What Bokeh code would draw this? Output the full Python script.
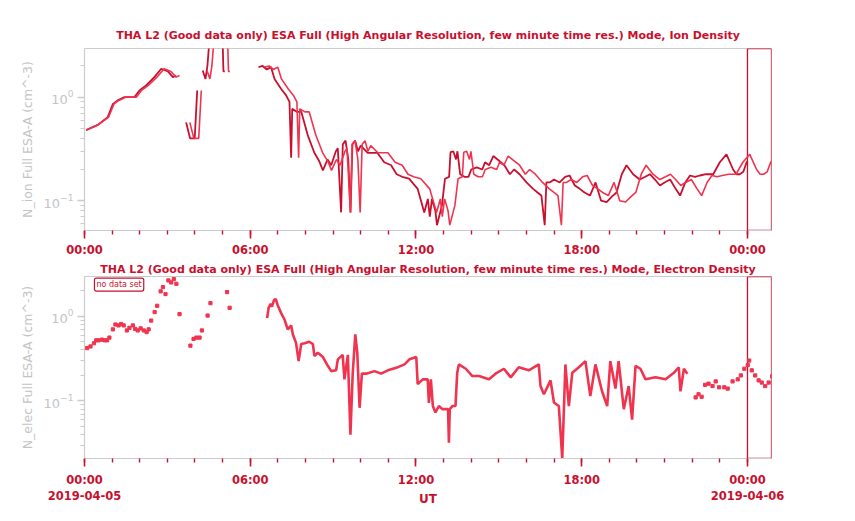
import math
from bokeh.plotting import figure
from bokeh.layouts import column
from bokeh.models import Range1d, FixedTicker, Label, LogTickFormatter, SingleIntervalTicker, LogTicker
from bokeh.embed import file_html
from bokeh.resources import INLINE

NAN = float("nan")

# ---------------- data ----------------
# time axis in hours since 2019-04-05 00:00 UT
x_end_hours = 24.87          # visible span of the primary time axis
x_end_hours_alt = 24.0       # span of the overlaid (second) time axis
highlight_start = [24.0]
highlight_end = [24.87]

tick_hours = [0, 6, 12, 18, 24]
tick_interval_hours = 6
minor_ticks_per_interval = 6
tick_labels_top = ["00:00", "06:00", "12:00", "18:00", "00:00"]
tick_labels_bottom = ["00:00\n2019-04-05", "06:00", "12:00", "18:00", "00:00\n2019-04-06"]

y_major_ticks = [0.1, 1.0]
y_minor_ticks = [0.02, 0.03, 0.04, 0.05, 0.06, 0.07, 0.08, 0.09,
                 0.2, 0.3, 0.4, 0.5, 0.6, 0.7, 0.8, 0.9, 2.0, 3.0]

ion_time = [0.06, 0.48, 0.84, 1.03, 1.20, 1.45, 1.81, 1.99, 2.23, 2.53, 2.78, 3.02, 3.20, 3.32, 3.50,
            3.68, 3.82, 3.99, 4.08, 4.18,
            4.28, 4.38, 4.45, 4.52, 5.00, 5.03, 5.08, 5.20,
            6.30, 6.45, 6.60, 6.75, 6.88, 7.12, 7.30, 7.42, 7.48, 7.52, 7.70, 7.85, 8.08, 8.32,
            8.50, 8.63, 8.80, 8.93, 9.10, 9.17, 9.29, 9.35, 9.45, 9.55, 9.63, 9.70, 9.80, 9.90,
            10.0, 10.25, 10.6, 10.85, 11.1, 11.3, 11.5, 11.75, 12.06, 12.3, 12.43, 12.50, 12.58,
            12.70, 12.76, 12.94, 13.05, 13.20, 13.25, 13.35, 13.45, 13.50, 13.6, 13.75, 13.9,
            14.0, 14.2, 14.4, 14.5, 14.65, 14.8, 15.03, 15.2, 15.4, 15.55, 15.75, 16.0, 16.24,
            16.4, 16.54, 16.66, 16.72, 16.84, 17.0, 17.2, 17.4, 17.56, 17.75, 17.93, 18.1, 18.3,
            18.5, 18.7, 18.9, 19.1, 19.26, 19.45, 19.62, 19.86, 20.1, 20.3, 20.47, 20.65, 20.83,
            21.0, 21.2, 21.4, 21.56, 21.75, 21.92, 22.1, 22.28, 22.5, 22.76, 23.0, 23.24, 23.48,
            23.6, 23.72, 23.85, 23.97, 24.0]
ion_density = [0.48, 0.54, 0.64, 0.86, 0.93, 1.0, 1.0, 1.16, 1.30, 1.56, 1.88, 1.77, 1.56, 1.62, NAN,
               0.57, 0.40, 0.40, 1.16, NAN,
               1.81, 1.5, 2.0, 3.5, 3.5, 1.77, 1.77, NAN,
               1.95, 2.0, 1.85, 1.95, 1.5, 1.2, 1.04, 0.9, 0.26, 0.77, 0.72, 0.72, 0.43, 0.29,
               0.24, 0.196, 0.25, 0.22, 0.30, 0.32, 0.077, 0.35, 0.38, 0.25, 0.077, 0.35, 0.38, 0.30,
               0.34, 0.29, 0.29, 0.235, 0.22, 0.18, 0.17, 0.163, 0.13, 0.077, 0.104, 0.07, 0.104,
               0.08, 0.058, 0.09, 0.163, 0.17, 0.294, 0.30, 0.25, 0.30, 0.18, 0.17, 0.17,
               0.20, 0.21, 0.20, 0.235, 0.22, 0.27, 0.24, 0.22, 0.18, 0.20, 0.18, 0.15, 0.13,
               0.12, 0.112, 0.058, 0.15, 0.15, 0.16, 0.15, 0.17, 0.175, 0.14, 0.13, 0.12, 0.112,
               0.15, 0.10, 0.097, 0.11, 0.12, 0.18, 0.22, 0.18, 0.16, 0.17, 0.18, 0.16, 0.14,
               0.15, 0.16, 0.13, 0.112, 0.15, 0.175, 0.17, 0.175, 0.18, 0.18, 0.235, 0.28, 0.20,
               0.18, 0.18, 0.19, 0.235, 0.24]

elec_sparse_time = [0.09, 0.21, 0.33, 0.41, 0.49, 0.61, 0.70, 0.79, 0.87, 0.99, 1.08, 1.19, 1.28, 1.37,
                    1.48, 1.57, 1.69, 1.77, 1.86, 1.96, 2.07, 2.17, 2.24, 2.33, 2.45, 2.54, 2.66, 2.74,
                    2.83, 2.93, 3.03, 3.12, 3.21, 3.32, 3.70, 3.81, 3.91, 4.02, 4.10, 4.30, 4.40, 4.98,
                    5.07,
                    21.35, 21.45, 21.56, 21.68, 21.80, 21.94, 22.05, 22.17, 22.35, 22.47, 22.64, 22.82,
                    22.93, 23.05, 23.17, 23.22, 23.31, 23.43, 23.55, 23.66, 23.78, 23.90, 24.02]
elec_sparse_density = [0.42, 0.44, 0.48, 0.52, 0.52, 0.53, 0.52, 0.52, 0.56, 0.70, 0.80, 0.78, 0.81, 0.78,
                       0.68, 0.73, 0.78, 0.71, 0.68, 0.72, 0.68, 0.65, 0.70, 0.89, 1.12, 1.33, 1.97, 2.21,
                       1.83, 2.65, 2.51, 2.75, 2.42, 1.06, 0.45, 0.54, 0.56, 0.56, 0.68, 1.02, 1.43, 1.93,
                       1.26,
                       0.11, 0.12, 0.112, 0.155, 0.16, 0.15, 0.17, 0.145, 0.145, 0.14, 0.17, 0.18,
                       0.20, 0.24, 0.265, 0.30, 0.23, 0.20, 0.175, 0.165, 0.15, 0.165, 0.195]

elec_dense_time = [6.38, 6.43, 6.50, 6.55, 6.62, 6.68, 6.75, 6.87, 6.99, 7.10, 7.22, 7.28, 7.39, 7.48,
                   7.57, 7.69, 7.85, 7.98, 8.03, 8.15, 8.33, 8.50, 8.62, 8.79, 8.85, 9.02, 9.08, 9.20,
                   9.29, 9.37, 9.46, 9.53, 9.61, 9.69, 9.84, 10.13, 10.36, 10.60, 10.89, 11.18, 11.35,
                   11.59, 11.64, 11.82, 11.99, 12.03, 12.10, 12.17, 12.26, 12.38, 12.50, 12.70, 12.73,
                   12.76, 12.85, 12.96, 13.02, 13.08, 13.32, 13.55, 13.78, 14.13, 14.36, 14.65, 14.89,
                   15.17, 15.52, 15.87, 15.93, 16.05, 16.28, 16.40, 16.57, 16.69, 16.80, 16.92, 17.04,
                   17.27, 17.50, 17.67, 17.85, 18.08, 18.26, 18.37, 18.55, 18.66, 18.84, 19.01, 19.13,
                   19.25, 19.42, 19.60, 19.95, 20.30, 20.59, 20.76, 20.82, 20.94, 21.06]
elec_dense_density = [0.95, 1.25, 1.40, 1.30, 1.55, 1.60, 1.35, 1.09, 0.91, 0.70, 0.78, 0.61, 0.485, 0.295,
                      0.47, 0.48, 0.50, 0.47, 0.34, 0.37, 0.33, 0.26, 0.225, 0.23, 0.31, 0.35, 0.18, 0.35,
                      0.04, 0.21, 0.61, 0.37, 0.083, 0.21, 0.21, 0.225, 0.21, 0.23, 0.246, 0.27, 0.31,
                      0.33, 0.158, 0.18, 0.18, 0.095, 0.18, 0.087, 0.073, 0.087, 0.08, 0.08, 0.032,
                      0.08, 0.087, 0.087, 0.215, 0.27, 0.24, 0.197, 0.197, 0.18, 0.21, 0.24, 0.19,
                      0.25, 0.23, 0.27, 0.15, 0.12, 0.175, 0.096, 0.087, 0.021, 0.27, 0.087, 0.215,
                      0.25, 0.295, 0.114, 0.27, 0.13, 0.087, 0.295, 0.14, 0.295, 0.08, 0.15, 0.06,
                      0.26, 0.24, 0.18, 0.19, 0.18, 0.215, 0.25, 0.13, 0.24, 0.21]

ion_yrange = (0.0515, 2.95)
elec_yrange = (0.0209, 2.95)

# ---------------- styling ----------------
DARK = "#c8102e"
LIGHT = "#f0344f"
AXIS_GRAY = "#cccccc"
TEXT_GRAY = "#c4c4c4"
FONT = "DejaVu Sans"
FRAME_H = 182


def make_panel(title, ylabel, yrange, tick_labels, bottom_panel):
    p = figure(frame_width=687, frame_height=FRAME_H,
               x_range=Range1d(0, x_end_hours), y_range=Range1d(*yrange),
               y_axis_type="log", output_backend="svg", toolbar_location=None,
               min_border_left=84, min_border_right=76,
               min_border_top=0 if bottom_panel else 48, min_border_bottom=0,
               title=title)
    p.extra_x_ranges = {"alt": Range1d(0, x_end_hours_alt)}
    p.title.text_color = DARK
    p.title.text_font = FONT
    p.title.text_font_size = "11px"
    p.title.text_font_style = "bold"
    p.title.align = "center"
    p.title.standoff = 2 if bottom_panel else 14
    p.xgrid.visible = False
    p.ygrid.visible = False
    p.outline_line_color = AXIS_GRAY
    p.background_fill_color = "white"
    p.border_fill_color = "white"

    xa = p.xaxis[0]
    xa.ticker = SingleIntervalTicker(interval=tick_interval_hours,
                                     num_minor_ticks=minor_ticks_per_interval)
    xa.major_label_overrides = {h: lab for h, lab in zip(tick_hours, tick_labels)}
    xa.axis_line_color = AXIS_GRAY
    xa.axis_line_width = 1.2
    xa.major_tick_line_color = DARK
    xa.minor_tick_line_color = DARK
    xa.major_tick_line_width = 1.6
    xa.minor_tick_line_width = 1.4
    xa.major_tick_in = 0
    xa.major_tick_out = 8
    xa.minor_tick_in = 0
    xa.minor_tick_out = 4
    xa.major_label_text_color = DARK
    xa.major_label_text_font = FONT
    xa.major_label_text_font_size = "11.5px"
    xa.major_label_text_font_style = "bold"
    xa.major_label_standoff = 6 if bottom_panel else 4
    if bottom_panel:
        xa.axis_label = "UT"
        xa.axis_label_text_color = DARK
        xa.axis_label_text_font = FONT
        xa.axis_label_text_font_size = "12px"
        xa.axis_label_text_font_style = "bold"
        xa.axis_label_standoff = -14

    ya = p.yaxis[0]
    if bottom_panel:
        ya.ticker = LogTicker(num_minor_ticks=10)
    else:
        ya.ticker = FixedTicker(ticks=y_major_ticks, minor_ticks=y_minor_ticks)
    ya.formatter = LogTickFormatter()
    ya.axis_label = ylabel
    ya.axis_label_text_color = TEXT_GRAY
    ya.axis_label_text_font = FONT
    ya.axis_label_text_font_size = "12.5px"
    ya.axis_label_text_font_style = "normal"
    ya.axis_label_standoff = 6
    ya.axis_line_color = AXIS_GRAY
    ya.axis_line_width = 1.2
    ya.major_tick_line_color = AXIS_GRAY
    ya.minor_tick_line_color = AXIS_GRAY
    ya.major_tick_line_width = 1.4
    ya.minor_tick_line_width = 1.2
    ya.major_tick_in = 0
    ya.major_tick_out = 7
    ya.minor_tick_in = 0
    ya.minor_tick_out = 4
    ya.major_label_text_color = TEXT_GRAY
    ya.major_label_text_font = FONT
    ya.major_label_text_font_size = "13px"
    ya.major_label_standoff = 4

    p.quad(left=highlight_start, right=highlight_end, bottom=[yrange[0]], top=[yrange[1]],
           fill_alpha=0, line_color=DARK, line_width=1.3)
    return p


p1 = make_panel("THA L2 (Good data only) ESA Full (High Angular Resolution, few minute time res.) Mode, Ion Density",
                "N_ion Full ESA-A (cm^-3)", ion_yrange, tick_labels_top, False)
p1.line(ion_time, ion_density, line_color=DARK, line_width=1.8)
p1.line(ion_time, ion_density, line_color=LIGHT, line_width=1.6, x_range_name="alt")

p2 = make_panel("THA L2 (Good data only) ESA Full (High Angular Resolution, few minute time res.) Mode, Electron Density",
                "N_elec Full ESA-A (cm^-3)", elec_yrange, tick_labels_bottom, True)
p2.line(elec_dense_time, elec_dense_density, line_color=LIGHT, line_width=2.6, x_range_name="alt")
p2.scatter(elec_sparse_time, elec_sparse_density, marker="square", size=3.2,
           color=LIGHT, x_range_name="alt")
p2.add_layout(Label(x=0.36, y=2.37, text="no data set", text_color=DARK, text_font=FONT,
                    text_font_size="8px", text_baseline="middle", text_align="left",
                    border_line_color=DARK, border_line_width=1.2, background_fill_color="white",
                    padding=2, border_radius=2))

layout = column(p1, p2, spacing=0)
open("out.html", "w").write(file_html(layout, INLINE))
